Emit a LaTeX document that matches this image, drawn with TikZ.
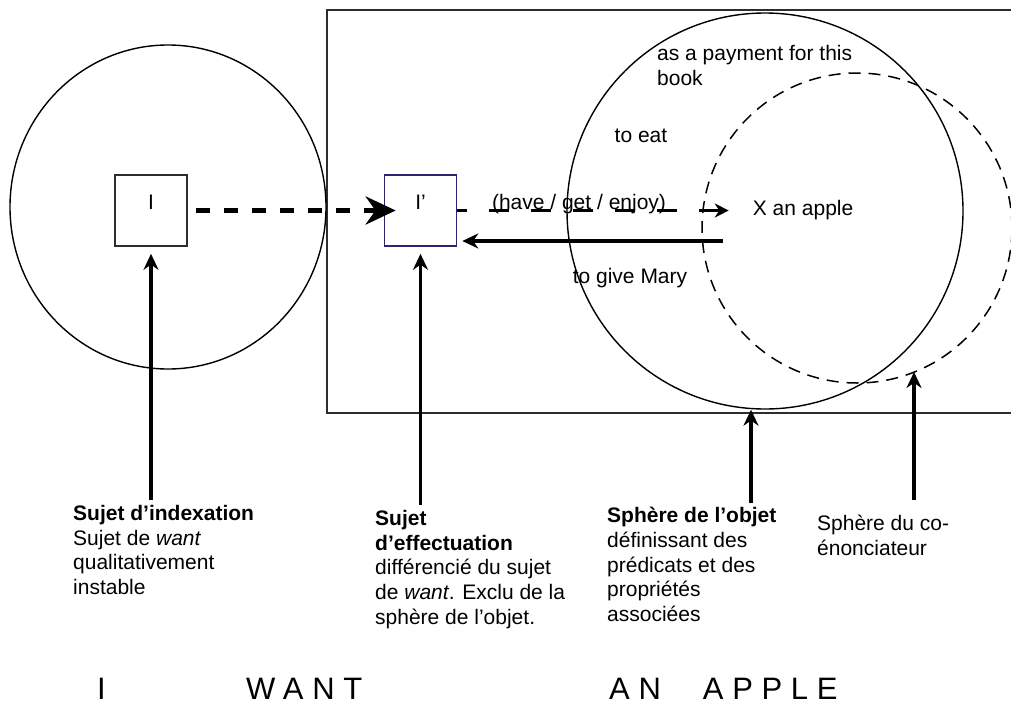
\documentclass[tikz,border=0pt]{standalone}
\usepackage{fontspec}
\setmainfont{Liberation Sans}
\usetikzlibrary{arrows.meta,shapes.geometric}
\definecolor{navy}{RGB}{45,35,110}
\definecolor{edge}{RGB}{45,45,45}
\begin{document}
\begin{tikzpicture}[x=1pt,y=-1pt,
  txt/.style={font=\fontsize{21}{24.7}\selectfont, inner sep=0pt},
  lbl/.style={txt, align=left, anchor=north west},
  sq/.style={draw=edge, line width=1.6pt, minimum width=72pt, minimum height=71pt,
    inner sep=0pt, txt, text height=15pt, text depth=17pt},
  sph/.style={ellipse, draw, line width=1.4pt, inner sep=0pt},
  up/.style={line width=3.5pt, -{Stealth[length=16pt,width=15pt]}},
  big/.style={font=\fontsize{31}{31}\selectfont\addfontfeatures{LetterSpace=28},
    inner sep=0pt, anchor=base west}
]
\useasboundingbox (0,0) rectangle (1011,704);

% frame (open on the right)
\draw[edge, line width=1.8pt] (1011,10) -- (327,10) -- (327,413) -- (1011,413);

% spheres
\node[sph, minimum width=316pt, minimum height=324pt] (lc) at (168,207) {};
\node[sph, minimum width=396pt, minimum height=396pt] (oc) at (765,211) {};
\node[sph, dash pattern=on 12pt off 8pt, line width=1.5pt, minimum width=310pt, minimum height=310pt] (dc) at (857,228) {};

% boxes
\node[sq] (i) at (151,210.5) {I};
\node[sq, draw=navy] (ip) at (420.5,210.5) {I’};

% texts inside
\node[txt, anchor=west] (xa) at (752.7,210.5) {X an apple};
\node[txt] (hg) at (579,204.5) {(have / get / enjoy)};
\node[txt] (gm) at (630,278.5) {to give Mary};
\node[txt] (te) at (641,136) {to eat};
\node[lbl] (pay) at (657,45) {as a payment for this\\book};

% thick dashed arrow I -> I'
\draw[line width=5pt, dash pattern=on 14pt off 14pt,
  -{Stealth[length=30pt,width=28pt]}, shorten <=8pt, shorten >=-12pt] (i.east) -- (ip.west);

% thin dashed arrow I' -> X an apple
\draw[line width=2.4pt, dash pattern=on 20pt off 22pt, dash phase=10pt,
  -{Stealth[length=14pt,width=14pt]}, shorten >=24pt] (ip.east) -- (xa.west);

% solid arrow back to I'
\coordinate (gs) at (723,241);
\draw[line width=3.5pt, -{Stealth[length=16pt,width=15pt]}, shorten >=5pt] (gs) -- (ip.east |- gs);

% bottom labels
\node[lbl] (l1) at (73,505) {\textbf{Sujet d’indexation}\\Sujet de \textit{want}\\qualitativement\\instable};
\node[lbl] (l2) at (375,510) {\textbf{Sujet}\\\textbf{d’effectuation}\\différencié du sujet\\de \textit{want}. Exclu de la\\sphère de l’objet.};
\node[lbl] (l3) at (607,507) {\textbf{Sphère de l’objet}\\définissant des\\prédicats et des\\propriétés\\associées};
\node[lbl] (l4) at (817,515) {Sphère du co-\\énonciateur};

% pointer arrows
\draw[up, shorten <=5pt, shorten >=7pt] (i.south |- l1.north) -- (i.south);
\draw[up, shorten <=5pt, shorten >=7pt] (ip.south |- l2.north) -- (ip.south);
\coordinate (a3) at ([xshift=-14pt]oc.south);
\draw[up, shorten <=4pt] (a3 |- l3.north) -- (a3);
\coordinate (a4) at (914,372);
\draw[up, shorten <=15pt] (a4 |- l4.north) -- (a4);

% sentence
\node[big] (s1) at (97,699) {I};
\node[big] (s2) at (246,699) {WANT};
\node[big] (s3) at (609,699) {AN\hspace{42pt}APPLE};
\end{tikzpicture}
\end{document}
